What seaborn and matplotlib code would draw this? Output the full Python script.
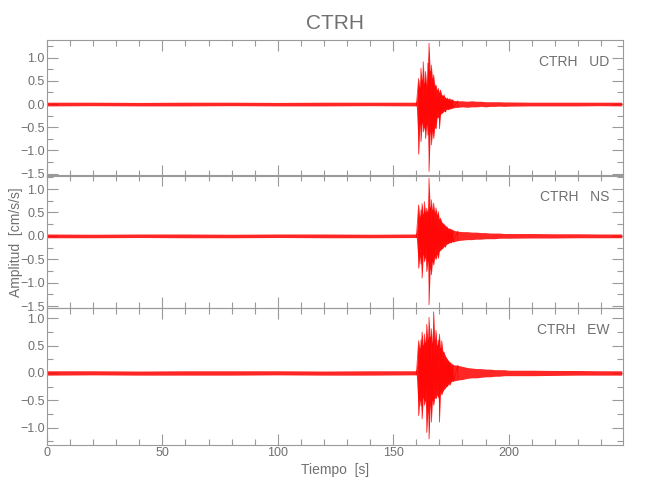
import numpy as np
import pandas as pd
import matplotlib
matplotlib.use('Agg')
import matplotlib.pyplot as plt
from matplotlib.ticker import MultipleLocator
import seaborn as sns

# sample times [s]: background, event (0.5 s), coda (2 s), end
t_bg = [0, 20, 40, 60, 80, 100, 120, 140, 160]
t_ev = [161.0, 161.5, 162.0, 162.5, 163.0, 163.5, 164.0, 164.5, 165.0, 165.5,
        166.0, 166.5, 167.0, 167.5, 168.0, 168.5, 169.0, 169.5, 170.0, 170.5,
        171.0, 171.5, 172.0, 172.5, 173.0, 173.5, 174.0, 174.5, 175.0, 175.5,
        176.0]
t_coda = [178, 180, 182, 184, 186, 188, 190, 192, 194, 196, 198, 200]
t_end = [210, 220, 230, 240, 249]
tiempo = t_bg + t_ev + t_coda + t_end

# peak amplitude per sample (upper / lower) [cm/s/s]
ud_hi = [0.04, 0.04, 0.035, 0.04, 0.04, 0.035, 0.04, 0.04, 0.04,
         0.55, 0.35, 0.77, 0.50, 0.91, 0.45, 0.70, 0.40, 0.88, 1.31,
         0.70, 0.84, 0.55, 0.63, 0.40, 0.41, 0.30, 0.34, 0.25, 0.30,
         0.20, 0.18, 0.20, 0.14, 0.12, 0.13, 0.10, 0.12, 0.09, 0.10, 0.08,
         0.07, 0.07, 0.06, 0.07, 0.06, 0.06, 0.05, 0.05, 0.05, 0.05, 0.045, 0.045,
         0.04, 0.04, 0.04, 0.04, 0.04]
ud_lo = [-0.04, -0.035, -0.04, -0.04, -0.035, -0.04, -0.04, -0.035, -0.04,
         -1.08, -0.45, -0.81, -0.40, -0.60, -0.50, -0.74, -0.45, -0.67, -1.45,
         -0.60, -0.88, -0.60, -0.74, -0.50, -0.53, -0.30, -0.28, -0.53, -0.22,
         -0.20, -0.18, -0.15, -0.17, -0.12, -0.11, -0.12, -0.10, -0.10, -0.09, -0.08,
         -0.07, -0.06, -0.07, -0.06, -0.06, -0.05, -0.06, -0.05, -0.05, -0.045, -0.05, -0.045,
         -0.04, -0.04, -0.04, -0.035, -0.04]

ns_hi = [0.04, 0.035, 0.04, 0.04, 0.035, 0.04, 0.04, 0.035, 0.04,
         0.66, 0.40, 0.55, 0.69, 0.45, 0.73, 0.50, 0.59, 0.50, 1.23,
         0.60, 0.77, 0.55, 0.70, 0.50, 0.60, 0.45, 0.52, 0.35, 0.38,
         0.30, 0.27, 0.25, 0.22, 0.20, 0.18, 0.15, 0.16, 0.14, 0.13, 0.12,
         0.10, 0.09, 0.09, 0.08, 0.08, 0.07, 0.07, 0.06, 0.06, 0.06, 0.05, 0.05,
         0.05, 0.045, 0.045, 0.04, 0.04]
ns_lo = [-0.04, -0.04, -0.035, -0.04, -0.04, -0.035, -0.04, -0.04, -0.035,
         -0.69, -0.45, -0.60, -0.90, -0.40, -0.55, -0.45, -0.76, -0.55, -1.47,
         -0.70, -0.83, -0.55, -0.62, -0.45, -0.50, -0.40, -0.48, -0.33, -0.30,
         -0.28, -0.26, -0.22, -0.24, -0.18, -0.17, -0.16, -0.14, -0.15, -0.12, -0.13,
         -0.10, -0.09, -0.08, -0.08, -0.07, -0.07, -0.06, -0.06, -0.06, -0.05, -0.05, -0.05,
         -0.045, -0.045, -0.04, -0.04, -0.04]

ew_hi = [0.04, 0.04, 0.035, 0.04, 0.04, 0.04, 0.035, 0.04, 0.04,
         0.59, 0.45, 0.60, 0.75, 0.50, 0.71, 0.55, 0.89, 0.60, 1.02,
         0.65, 0.81, 0.55, 1.12, 0.60, 0.78, 0.50, 0.60, 0.71, 0.45,
         0.59, 0.40, 0.38, 0.32, 0.28, 0.25, 0.22, 0.20, 0.18, 0.16, 0.15,
         0.14, 0.12, 0.10, 0.09, 0.08, 0.08, 0.07, 0.07, 0.06, 0.06, 0.06, 0.05,
         0.05, 0.045, 0.045, 0.04, 0.04]
ew_lo = [-0.04, -0.035, -0.04, -0.04, -0.04, -0.035, -0.04, -0.04, -0.035,
         -0.78, -0.50, -0.60, -0.84, -0.45, -0.59, -0.50, -1.09, -0.70, -1.21,
         -0.60, -0.90, -0.50, -0.59, -0.45, -0.47, -0.40, -0.45, -0.90, -0.35,
         -0.40, -0.34, -0.30, -0.28, -0.25, -0.24, -0.20, -0.22, -0.17, -0.15, -0.15,
         -0.13, -0.12, -0.10, -0.09, -0.09, -0.08, -0.07, -0.07, -0.06, -0.06, -0.05, -0.05,
         -0.05, -0.045, -0.04, -0.04, -0.04]

estacion = 'CTRH'
componentes = ['UD', 'NS', 'EW']
trazas = [(ud_hi, ud_lo), (ns_hi, ns_lo), (ew_hi, ew_lo)]
y_lims = [(-1.55, 1.38), (-1.54, 1.30), (-1.32, 1.19)]
x_lim = (0, 249.5)

sns.set_style('white')
plt.rcParams['font.family'] = ['Liberation Sans', 'DejaVu Sans']
gris = '#9a9a9a'
gris_txt = '#707070'

fig = plt.figure(figsize=(6.5, 5), dpi=100)
# panel boxes in figure fraction [left, bottom, width, height]
cajas = [[0.0723, 0.648, 0.886, 0.272],
         [0.0723, 0.384, 0.886, 0.266],
         [0.0723, 0.110, 0.886, 0.274]]

n_bg = len(t_bg)
n_ev = len(t_ev)
axes = []
for i, comp in enumerate(componentes):
    ax = fig.add_axes(cajas[i])
    hi, lo = trazas[i]
    # whole trace as a band between the peak values
    ax.fill_between(tiempo, lo, hi, color='red', alpha=0.85, lw=0)
    # strong motion as zig-zag between peaks at each sample
    sel = slice(n_bg - 1, n_bg + n_ev + 1)
    df = pd.DataFrame({'t': np.repeat(tiempo[sel], 2),
                       'amp': np.column_stack([hi[sel], lo[sel]]).ravel()})
    sns.lineplot(data=df, x='t', y='amp', ax=ax, sort=False, estimator=None,
                 color='red', linewidth=0.6, alpha=0.8)
    ax.set_xlim(*x_lim)
    ax.set_ylim(*y_lims[i])
    ax.xaxis.set_major_locator(MultipleLocator(50))
    ax.xaxis.set_minor_locator(MultipleLocator(10))
    ax.yaxis.set_major_locator(MultipleLocator(0.5))
    ax.yaxis.set_minor_locator(MultipleLocator(0.25))
    ax.tick_params(which='both', direction='in', top=True, right=True,
                   bottom=True, left=True, color=gris, width=0.8,
                   labelcolor=gris_txt, labelsize=9, pad=1.5)
    ax.tick_params(which='major', length=8)
    ax.tick_params(which='minor', length=4.5)
    for s in ax.spines.values():
        s.set_color(gris)
        s.set_linewidth(0.8)
    ax.set_xlabel('')
    ax.set_ylabel('')
    if i < 2:
        ax.tick_params(labelbottom=False)
    ax.text(0.976, 0.89, estacion + '   ' + comp, transform=ax.transAxes,
            ha='right', va='top', color=gris_txt, fontsize=10)
    ax.patch.set_alpha(0)
    axes.append(ax)

axes[0].set_title(estacion, color=gris_txt, fontsize=15, pad=8)
fig.text(0.024, 0.516, 'Amplitud  [cm/s/s]', rotation=90, ha='center',
         va='center', color=gris_txt, fontsize=10)
axes[2].set_xlabel('Tiempo  [s]', color=gris_txt, fontsize=10, labelpad=3)

plt.savefig('out.png', dpi=100)
plt.close()
